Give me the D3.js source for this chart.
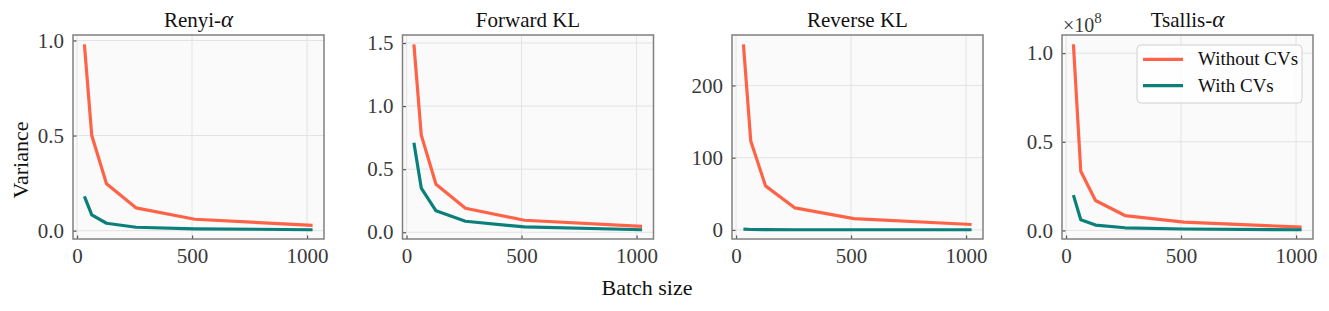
<!DOCTYPE html>
<html>
<head>
<meta charset="utf-8">
<script src="https://cdn.jsdelivr.net/npm/d3@7"></script>
<style>
  body { margin: 0; background: #fff; }
  svg text { font-family: "Liberation Serif", "Times New Roman", serif; }
</style>
</head>
<body>
<div id="chart"></div>
<script>
// batch sizes on the x axis
const batchSizes = [32, 64, 128, 256, 512, 1024]

// variance per estimator
const renyiWithout = [0.98, 0.50, 0.247, 0.12, 0.06, 0.028]
const renyiWith = [0.18, 0.083, 0.039, 0.018, 0.010, 0.005]
const forwardWithout = [1.49, 0.77, 0.38, 0.19, 0.095, 0.047]
const forwardWith = [0.71, 0.35, 0.17, 0.087, 0.042, 0.020]
const reverseWithout = [257, 123, 61, 30.5, 15.7, 7.5]
const reverseWith = [1.0, 0.6, 0.4, 0.3, 0.3, 0.3]
const tsallisWithout = [1.05, 0.334, 0.169, 0.084, 0.047, 0.019]  // x 1e8
const tsallisWith = [0.199, 0.060, 0.030, 0.015, 0.008, 0.004]    // x 1e8

const titles = ['Renyi-', 'Forward KL', 'Reverse KL', 'Tsallis-']
const titleGreek = ['α', '', '', 'α']
const seriesNames = ['Without CVs', 'With CVs']
const xTicks = [0, 500, 1000]
const yTicks = [[0, 0.5, 1.0], [0, 0.5, 1.0, 1.5], [0, 100, 200], [0, 0.5, 1.0]]
const yFormats = ['.1f', '.1f', 'd', '.1f']

const panels = [
  [renyiWithout, renyiWith],
  [forwardWithout, forwardWith],
  [reverseWithout, reverseWith],
  [tsallisWithout, tsallisWith]
]

const W = 1329, H = 311
const panelLeft = [73, 402.5, 732, 1062]
const panelTop = 35
const pw = 251, ph = 204
const colors = ['#ff6347', '#0b807a']
const serif = '"Liberation Serif", "Times New Roman", serif'

const svg = d3.select('#chart').append('svg')
  .attr('width', W)
  .attr('height', H)

// matplotlib style 5% padding around the data
function padded(ext) {
  let d = (ext[1] - ext[0]) * 0.05
  return [ext[0] - d, ext[1] + d]
}

panels.forEach((series, p) => {
  let g = svg.append('g').attr('transform', 'translate(' + panelLeft[p] + ',' + panelTop + ')')

  let x = d3.scaleLinear().domain(padded(d3.extent(batchSizes))).range([0, pw])
  let all = series[0].concat(series[1])
  let y = d3.scaleLinear().domain(padded(d3.extent(all))).range([ph, 0])

  g.append('rect')
    .attr('width', pw).attr('height', ph)
    .attr('fill', '#fafafa')

  // grid
  g.append('g').selectAll('line').data(xTicks).enter().append('line')
    .attr('x1', d => x(d)).attr('x2', d => x(d))
    .attr('y1', 0).attr('y2', ph)
    .attr('stroke', '#e3e3e3').attr('stroke-width', 1)
  g.append('g').selectAll('line').data(yTicks[p]).enter().append('line')
    .attr('x1', 0).attr('x2', pw)
    .attr('y1', d => y(d)).attr('y2', d => y(d))
    .attr('stroke', '#e3e3e3').attr('stroke-width', 1)

  // axes with inward ticks
  let xAxis = g.append('g')
    .attr('transform', 'translate(0,' + ph + ')')
    .call(d3.axisBottom(x).tickValues(xTicks).tickSize(-3.5).tickPadding(10).tickFormat(d3.format('d')))
  let yAxis = g.append('g')
    .call(d3.axisLeft(y).tickValues(yTicks[p]).tickSize(-3.5).tickPadding(10).tickFormat(d3.format(yFormats[p])))
  ;[xAxis, yAxis].forEach(a => {
    a.attr('font-family', serif).attr('font-size', 21)
    a.select('.domain').remove()
    a.selectAll('.tick line').attr('stroke', '#555').attr('stroke-width', 1.2)
    a.selectAll('.tick text').attr('fill', '#3a3a3a')
  })
  xAxis.selectAll('.tick text').attr('dy', '0.71em').attr('y', 9)
  yAxis.selectAll('.tick text').attr('x', -9)

  // lines
  let line = d3.line()
    .x((d, i) => x(batchSizes[i]))
    .y(d => y(d))
  series.forEach((vals, s) => {
    g.append('path')
      .datum(vals)
      .attr('d', line)
      .attr('fill', 'none')
      .attr('stroke', colors[s])
      .attr('stroke-width', 3.2)
      .attr('stroke-linejoin', 'round')
  })

  // frame
  g.append('rect')
    .attr('width', pw).attr('height', ph)
    .attr('fill', 'none')
    .attr('stroke', '#808080').attr('stroke-width', 1.5)

  // title
  let t = g.append('text')
    .attr('x', pw / 2).attr('y', -8)
    .attr('text-anchor', 'middle')
    .style('font-size', '21px')
    .attr('fill', '#111')
    .text(titles[p])
  if (titleGreek[p]) {
    t.append('tspan').style('font-style', 'italic').style('font-size', '23px').text(titleGreek[p])
  }

  // offset text for the last panel
  if (p === 3) {
    let o = g.append('text')
      .attr('x', 1).attr('y', -3.5)
      .style('font-size', '20px')
      .attr('fill', '#3a3a3a')
      .text('×10')
    o.append('tspan').attr('dy', -9).style('font-size', '15px').text('8')

    // legend
    let lg = g.append('g').attr('transform', 'translate(75,10)')
    lg.append('rect')
      .attr('width', 165).attr('height', 58)
      .attr('rx', 4)
      .attr('fill', '#ffffff').attr('fill-opacity', 0.8)
      .attr('stroke', '#d0d0d0').attr('stroke-width', 1)
    seriesNames.forEach((name, s) => {
      let yy = 14.3 + s * 26.4
      lg.append('line')
        .attr('x1', 6).attr('x2', 46)
        .attr('y1', yy).attr('y2', yy)
        .attr('stroke', colors[s]).attr('stroke-width', 3.2)
      lg.append('text')
        .attr('x', 61).attr('y', yy + 6)
        .style('font-size', '19px')
        .attr('fill', '#111')
        .text(name)
    })
  }
})

// shared axis labels
svg.append('text')
  .attr('x', 647).attr('y', 295)
  .attr('text-anchor', 'middle')
  .style('font-size', '22px')
  .attr('fill', '#111')
  .text('Batch size')

svg.append('text')
  .attr('transform', 'translate(28,160) rotate(-90)')
  .attr('text-anchor', 'middle')
  .style('font-size', '22px')
  .attr('fill', '#111')
  .text('Variance')
</script>
</body>
</html>
